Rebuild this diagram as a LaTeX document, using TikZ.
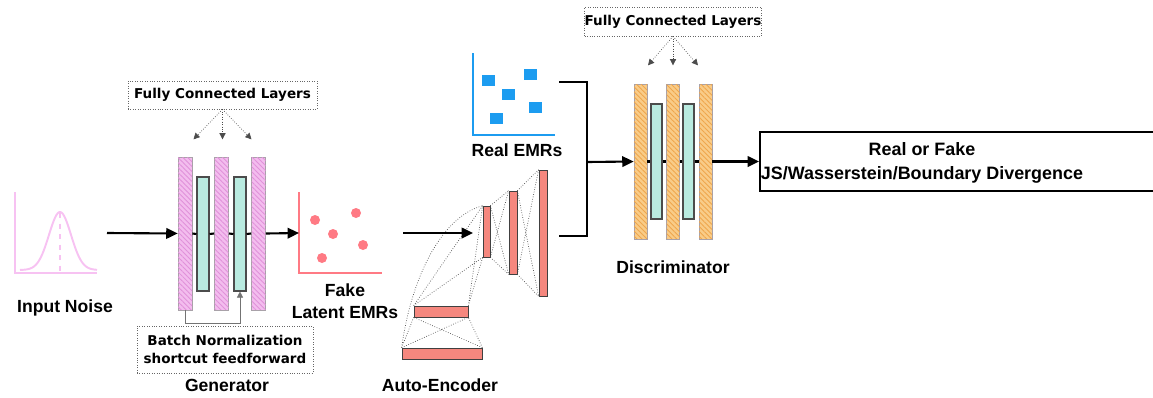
\documentclass[tikz,border=0pt]{standalone}
\usepackage{fontspec}
\setmainfont{Liberation Sans}
\newfontfamily\notefont{DejaVu Sans}
\usetikzlibrary{positioning,arrows.meta,patterns.meta}

\definecolor{noisepink}{HTML}{F7C2F2}
\definecolor{genpink}{HTML}{F3BDEE}
\definecolor{genhatch}{HTML}{E191DA}
\definecolor{baredge}{HTML}{A9A2A9}
\definecolor{normteal}{HTML}{B9EBE0}
\definecolor{disorange}{HTML}{F9CC88}
\definecolor{dishatch}{HTML}{EFA64C}
\definecolor{aesalmon}{HTML}{F5877E}
\definecolor{fakered}{HTML}{FF7A84}
\definecolor{realblue}{HTML}{1C9CF0}

\begin{document}
\begin{tikzpicture}[
			x=0.02cm, y=0.02cm,
			>=Latex,
			genbar/.style={
				draw=baredge, fill=genpink,
				postaction={pattern={Lines[angle=-45,distance=2pt,line width=0.5pt]}, pattern color=genhatch},
				minimum width=0.28cm, minimum height=3.06cm, inner sep=0pt
			},
			normbar/.style={
				draw=black!70, line width=0.6pt, fill=normteal,
				minimum width=0.24cm, minimum height=2.28cm, inner sep=0pt
			},
			disbar/.style={
				draw=baredge, fill=disorange,
				postaction={pattern={Lines[angle=-45,distance=2pt,line width=0.5pt]}, pattern color=dishatch},
				minimum width=0.26cm, minimum height=3.1cm, inner sep=0pt
			},
			aebar/.style={draw=black!75, fill=aesalmon, inner sep=0pt},
			note/.style={
				draw=black!60, densely dotted,
				font=\notefont\bfseries\fontsize{7.7}{10.2}\selectfont,
				align=center, inner sep=0pt
			},
			tag/.style={font=\bfseries\fontsize{10}{12.5}\selectfont, align=center, inner sep=0pt},
			flow/.style={-{Triangle[length=6.5pt,width=6pt]}, line width=1.2pt},
			pipe/.style={line width=1.2pt},
			fcarrow/.style={-{Triangle[length=3.5pt,width=3.5pt]}, densely dotted, black!70},
			wire/.style={densely dotted, black!70, thin}
			]
			
			% pixel grid of the reference, y measured downwards
			\begin{scope}[yshift=7.94cm, y=-0.02cm]
			
			\clip (0,0) rectangle (1153,397);
			
			%--------------------------------------------------
			% Input Noise
			%--------------------------------------------------
			
			\draw[noisepink, line width=1.1pt] (15,192) |- (97,273);
			\draw[noisepink, line width=1.1pt]
			plot[domain=20:97, samples=60, smooth] (\x, {270-58*exp(-((\x-60)^2)/242)});
			\draw[noisepink, line width=1pt, dashed] (60,213) -- (60,273);
			\node[tag] (noise) at (65,308) {Input Noise};
			
			%--------------------------------------------------
			% Generator
			%--------------------------------------------------
			
			\node[genbar] (g1) at (185,233.5) {};
			\node[normbar] (t1) at (203,234) {};
			\node[genbar] (g2) at (221.5,233.5) {};
			\node[normbar] (t2) at (240,234) {};
			\node[genbar] (g3) at (258.5,233.5) {};
			
			\node[note, minimum width=3.78cm, minimum height=0.56cm] (fcg) at (222.5,95) {Fully Connected Layers};
			\foreach \dx in {-29,0,29}
			\draw[fcarrow] (fcg.south) -- ++(\dx,30);
			
			\node[note, minimum width=3.52cm, minimum height=0.94cm] (bn) at (225,349.5)
			{Batch Normalization\\shortcut feedforward};
			\draw[black!55, -{Triangle[length=3.5pt,width=3.5pt]}] (g1.south) -- ++(0,13) -| (t2.south);
			
			\node[tag] (gen) at (227,385) {Generator};
			
			%--------------------------------------------------
			% Fake Latent EMRs
			%--------------------------------------------------
			
			\draw[fakered, line width=1.3pt] (299,192) |- (382,273);
			\coordinate (fakein) at (299,233);
			\foreach \px/\py in {315/220, 356/213, 333/234, 363/245, 322/258}
			\fill[fakered] (\px,\py) circle (0.1cm);
			\node[tag] (fake) at (345,301) {Fake\\Latent EMRs};
			
			%--------------------------------------------------
			% Auto-Encoder
			%--------------------------------------------------
			
			\node[aebar, minimum width=0.14cm, minimum height=1.02cm] (l1) at (486.5,231.5) {};
			\node[aebar, minimum width=0.16cm, minimum height=1.66cm] (l2) at (513,232.5) {};
			\node[aebar, minimum width=0.16cm, minimum height=2.52cm] (l3) at (543,233) {};
			\node[aebar, minimum width=1.08cm, minimum height=0.22cm] (b1) at (441,311.5) {};
			\node[aebar, minimum width=1.6cm, minimum height=0.22cm] (b2) at (442,353.5) {};
			
			\foreach \a/\b in {b2/b1}
			\draw[wire] (\a.north west) -- (\b.south west) (\a.north west) -- (\b.south east)
			(\a.north east) -- (\b.south west) (\a.north east) -- (\b.south east);
			\draw[wire] (b1.north west) -- (l1.south west) (b1.north west) -- (l1.north west)
			(b1.north east) -- (l1.south west) (b1.north east) -- (l1.north west);
			\foreach \a/\b in {l1/l2, l2/l3}
			\draw[wire] (\a.north east) -- (\b.north west) (\a.north east) -- (\b.south west)
			(\a.south east) -- (\b.north west) (\a.south east) -- (\b.south west);
			\draw[wire] (b2.north west) .. controls (410,285) and (438,218) .. (l1.north west);
			
			\coordinate (aein) at (403,233);
			\coordinate (aetip) at (473,233);
			\draw[flow] (aein) -- (aetip);
			\node[tag] (ae) at (440,385) {Auto-Encoder};
			
			%--------------------------------------------------
			% Real EMRs
			%--------------------------------------------------
			
			\draw[realblue, line width=1.3pt] (473,53) |- (555,135);
			\foreach \px/\py in {488/80, 530/74, 508/94, 535/107, 496/118}
			\fill[realblue] (\px-6.5,\py-5.5) rectangle (\px+6.5,\py+5.5);
			\node[tag] (real) at (517,150) {Real EMRs};
			
			%--------------------------------------------------
			% Discriminator
			%--------------------------------------------------
			
			\coordinate (realtap) at (559,82);
			\coordinate (aetap) at (559,236);
			\coordinate (join) at (587,162);
			\draw[pipe] (realtap) -| (587,236) -- (aetap);
			
			\node[disbar] (d1) at (640.5,161.5) {};
			\node[normbar, minimum width=0.22cm, minimum height=2.3cm] (e1) at (656.5,161.5) {};
			\node[disbar] (d2) at (673,161.5) {};
			\node[normbar, minimum width=0.22cm, minimum height=2.3cm] (e2) at (688.5,161.5) {};
			\node[disbar] (d3) at (705.5,161.5) {};
			
			\node[note, minimum width=3.36cm, minimum height=0.58cm] (fcd) at (673,21.5) {Fully Connected Layers};
			\foreach \dx in {-25,0,25}
			\draw[fcarrow] (fcd.south) -- ++(\dx,29);
			
			\node[tag] (dis) at (673,267) {Discriminator};
			
			%--------------------------------------------------
			% Output
			%--------------------------------------------------
			
			\node[draw, line width=1.2pt, minimum width=8.02cm, minimum height=1.18cm, anchor=west] (out) at (759,161.5) {};
			\node[tag, font=\bfseries\fontsize{10.2}{13.6}\selectfont] (verdict) at (922,163)
			{Real or Fake\\JS/Wasserstein/Boundary Divergence};
			
			%--------------------------------------------------
			% Flow
			%--------------------------------------------------
			
			\draw[flow] (107,233) -- (g1.west);
			\foreach \a/\b in {g1/t1, t1/g2, g2/t2, t2/g3}
			\draw[pipe] (\a.east) -- (\b.west);
			\draw[flow] (g3.east) -- (fakein);
			
			\draw[flow] (join) -- (d1.west);
			\foreach \a/\b in {d1/e1, e1/d2, d2/e2, e2/d3}
			\draw[pipe] (\a.east) -- (\b.west);
			\draw[flow] (d3.east) -- (out.west);
			
			\end{scope}
		\end{tikzpicture}
\end{document}
